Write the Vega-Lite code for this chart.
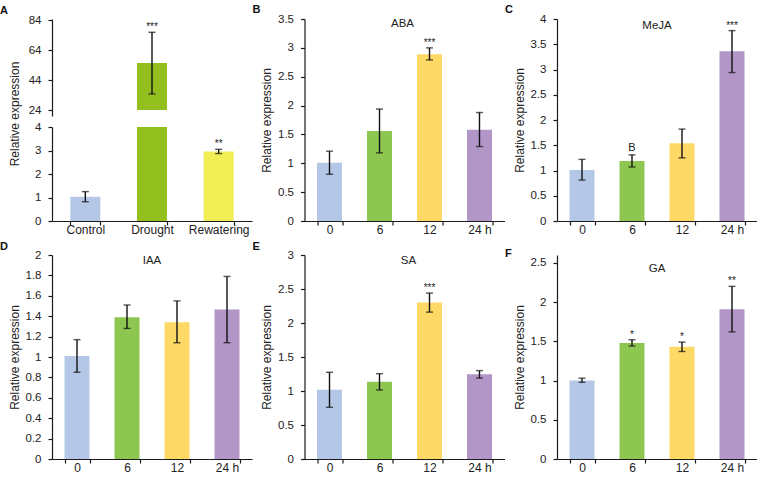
{
  "$schema": "https://vega.github.io/schema/vega-lite/v6.json",
  "padding": {"left": 0, "top": 3, "right": 0, "bottom": 0},
  "background": "white",
  "datasets": {
    "abiotic": [
      {"g": "Control", "v": 1.03, "lo": 0.82, "hi": 1.25, "s": ""},
      {"g": "Drought", "v": 55.5, "lo": 34.8, "hi": 76.1, "s": "***"},
      {"g": "Rewatering", "v": 2.96, "lo": 2.87, "hi": 3.05, "s": "**"}
    ],
    "hormone": [
      {"h": "ABA", "t": "0", "v": 1.01, "lo": 0.81, "hi": 1.21, "s": "", "n": ""},
      {"h": "ABA", "t": "6", "v": 1.56, "lo": 1.18, "hi": 1.94, "s": "", "n": ""},
      {"h": "ABA", "t": "12", "v": 2.89, "lo": 2.79, "hi": 3.0, "s": "***", "n": ""},
      {"h": "ABA", "t": "24 h", "v": 1.58, "lo": 1.29, "hi": 1.88, "s": "", "n": ""},
      {"h": "MeJA", "t": "0", "v": 1.01, "lo": 0.81, "hi": 1.22, "s": "", "n": ""},
      {"h": "MeJA", "t": "6", "v": 1.19, "lo": 1.07, "hi": 1.31, "s": "", "n": "B"},
      {"h": "MeJA", "t": "12", "v": 1.54, "lo": 1.25, "hi": 1.82, "s": "", "n": ""},
      {"h": "MeJA", "t": "24 h", "v": 3.36, "lo": 2.94, "hi": 3.77, "s": "***", "n": ""},
      {"h": "IAA", "t": "0", "v": 1.01, "lo": 0.85, "hi": 1.17, "s": "", "n": ""},
      {"h": "IAA", "t": "6", "v": 1.39, "lo": 1.28, "hi": 1.51, "s": "", "n": ""},
      {"h": "IAA", "t": "12", "v": 1.34, "lo": 1.14, "hi": 1.55, "s": "", "n": ""},
      {"h": "IAA", "t": "24 h", "v": 1.465, "lo": 1.14, "hi": 1.79, "s": "", "n": ""},
      {"h": "SA", "t": "0", "v": 1.02, "lo": 0.76, "hi": 1.275, "s": "", "n": ""},
      {"h": "SA", "t": "6", "v": 1.135, "lo": 1.015, "hi": 1.255, "s": "", "n": ""},
      {"h": "SA", "t": "12", "v": 2.3, "lo": 2.16, "hi": 2.44, "s": "***", "n": ""},
      {"h": "SA", "t": "24 h", "v": 1.245, "lo": 1.19, "hi": 1.3, "s": "", "n": ""},
      {"h": "GA", "t": "0", "v": 1.0, "lo": 0.977, "hi": 1.03, "s": "", "n": ""},
      {"h": "GA", "t": "6", "v": 1.48, "lo": 1.44, "hi": 1.52, "s": "*", "n": ""},
      {"h": "GA", "t": "12", "v": 1.43, "lo": 1.37, "hi": 1.49, "s": "*", "n": ""},
      {"h": "GA", "t": "24 h", "v": 1.91, "lo": 1.62, "hi": 2.2, "s": "**", "n": ""}
    ]
  },
  "config": {
    "font": "Liberation Sans",
    "view": {"stroke": null},
    "axis": {"labelFont": "Liberation Sans", "titleFont": "Liberation Sans", "labelColor": "#222", "titleColor": "#222", "domainColor": "#1a1a1a", "tickColor": "#1a1a1a", "domainWidth": 1.2, "tickWidth": 1.2, "tickSize": 4, "grid": false, "titleFontWeight": "normal", "labelOverlap": false, "labelBound": false, "labelFlush": false},
    "axisY": {"labelFontSize": 11.5, "titleFontSize": 12, "labelPadding": 7, "titleX": -31},
    "axisX": {"labelFontSize": 12, "labelPadding": -1, "labelAngle": 0}
  },
  "vconcat": [
    {
      "hconcat": [
        {
          "bounds": "flush",
          "spacing": 11,
          "vconcat": [
            {
              "width": 200, "height": 97,
              "data": {"name": "abiotic"},
              "transform": [{"filter": "datum.v > 24"}],
              "resolve": {"scale": {"x": "independent"}, "axis": {"x": "independent"}},
              "layer": [
                {
                  "encoding": {"x": {"field": "g", "type": "nominal", "sort": null, "axis": null, "scale": {"domain": ["Control", "Drought", "Rewatering"], "paddingInner": 0.55, "paddingOuter": 0.275}}},
                  "layer": [
                    {"mark": "bar", "encoding": {"y": {"field": "v", "type": "quantitative", "title": null, "scale": {"domain": [24, 84]}, "axis": {"values": [24, 44, 64, 84], "title": null}}, "y2": {"datum": 24}, "color": {"field": "g", "type": "nominal", "legend": null, "scale": {"domain": ["Control", "Drought", "Rewatering", "0", "6", "12", "24 h"], "range": ["#b4c7e7", "#93c01f", "#f1ee55", "#b4c7e7", "#8dc650", "#ffd966", "#b296c8"]}}}},
                    {"mark": {"type": "rule", "color": "#111", "strokeWidth": 1.4}, "encoding": {"y": {"field": "lo", "type": "quantitative", "title": null, "axis": {"values": [24, 44, 64, 84], "title": null}}, "y2": {"field": "hi"}}},
                    {"mark": {"type": "tick", "color": "#111", "thickness": 1.4, "size": 7}, "encoding": {"y": {"field": "lo", "type": "quantitative", "title": null, "axis": {"values": [24, 44, 64, 84], "title": null}}}},
                    {"mark": {"type": "tick", "color": "#111", "thickness": 1.4, "size": 7}, "encoding": {"y": {"field": "hi", "type": "quantitative", "title": null, "axis": {"values": [24, 44, 64, 84], "title": null}}}},
                    {"mark": {"type": "text", "baseline": "alphabetic", "dy": -2, "fontSize": 10, "color": "#222"}, "encoding": {"y": {"field": "hi", "type": "quantitative", "title": null, "axis": {"values": [24, 44, 64, 84], "title": null}}, "text": {"field": "s"}}}
                  ]
                },
                {"mark": {"type": "text", "fontSize": 11, "fontWeight": "bold", "baseline": "alphabetic", "align": "left", "dy": -6.5, "color": "#111"}, "encoding": {"x": {"datum": -0.26, "type": "quantitative", "scale": {"domain": [0, 1]}, "axis": null}, "y": {"datum": 84, "type": "quantitative", "title": null, "axis": {"values": [24, 44, 64, 84], "title": null}}, "text": {"value": "A"}}}
              ]
            },
            {
              "width": 200, "height": 94,
              "data": {"name": "abiotic"},
              "encoding": {"x": {"field": "g", "type": "nominal", "sort": null, "title": null, "axis": {"tickBand": "extent"}, "scale": {"domain": ["Control", "Drought", "Rewatering"], "paddingInner": 0.55, "paddingOuter": 0.275}}},
              "layer": [
                {"mark": "bar", "encoding": {"y": {"field": "v", "type": "quantitative", "title": "Relative expression", "scale": {"domain": [0, 4], "clamp": true}, "axis": {"values": [0, 1, 2, 3, 4], "titleY": -13.5}}, "color": {"field": "g", "type": "nominal", "legend": null, "scale": {"domain": ["Control", "Drought", "Rewatering", "0", "6", "12", "24 h"], "range": ["#b4c7e7", "#93c01f", "#f1ee55", "#b4c7e7", "#8dc650", "#ffd966", "#b296c8"]}}}},
                {"transform": [{"filter": "datum.g !== 'Drought'"}], "mark": {"type": "rule", "color": "#111", "strokeWidth": 1.4}, "encoding": {"y": {"field": "lo", "type": "quantitative", "title": "Relative expression", "axis": {"values": [0, 1, 2, 3, 4], "titleY": -13.5}}, "y2": {"field": "hi"}}},
                {"transform": [{"filter": "datum.g !== 'Drought'"}], "mark": {"type": "tick", "color": "#111", "thickness": 1.4, "size": 7}, "encoding": {"y": {"field": "lo", "type": "quantitative", "title": "Relative expression", "axis": {"values": [0, 1, 2, 3, 4], "titleY": -13.5}}}},
                {"transform": [{"filter": "datum.g !== 'Drought'"}], "mark": {"type": "tick", "color": "#111", "thickness": 1.4, "size": 7}, "encoding": {"y": {"field": "hi", "type": "quantitative", "title": "Relative expression", "axis": {"values": [0, 1, 2, 3, 4], "titleY": -13.5}}}},
                {"transform": [{"filter": "datum.g !== 'Drought'"}], "mark": {"type": "text", "baseline": "alphabetic", "dy": -2, "fontSize": 10, "color": "#222"}, "encoding": {"y": {"field": "hi", "type": "quantitative", "title": "Relative expression", "axis": {"values": [0, 1, 2, 3, 4], "titleY": -13.5}}, "text": {"field": "s"}}}
              ]
            }
          ]
        },
        {
          "width": 200, "height": 202,
          "data": {"name": "hormone"},
          "transform": [{"filter": "datum.h === 'ABA'"}],
          "resolve": {"scale": {"x": "independent"}, "axis": {"x": "independent"}},
          "layer": [
            {
              "encoding": {"x": {"field": "t", "type": "nominal", "sort": null, "title": null, "axis": {"tickBand": "extent"}, "scale": {"paddingInner": 0.5, "paddingOuter": 0.25}}},
              "layer": [
                {"mark": "bar", "encoding": {"y": {"field": "v", "type": "quantitative", "title": "Relative expression", "scale": {"domain": [0, 3.5]}, "axis": {"values": [0, 0.5, 1, 1.5, 2, 2.5, 3, 3.5], "format": "~g"}}, "color": {"field": "t", "type": "nominal", "legend": null, "scale": {"domain": ["Control", "Drought", "Rewatering", "0", "6", "12", "24 h"], "range": ["#b4c7e7", "#93c01f", "#f1ee55", "#b4c7e7", "#8dc650", "#ffd966", "#b296c8"]}}}},
                {"mark": {"type": "rule", "color": "#111", "strokeWidth": 1.4}, "encoding": {"y": {"field": "lo", "type": "quantitative", "title": "Relative expression", "axis": {"values": [0, 0.5, 1, 1.5, 2, 2.5, 3, 3.5], "format": "~g"}}, "y2": {"field": "hi"}}},
                {"mark": {"type": "tick", "color": "#111", "thickness": 1.4, "size": 7}, "encoding": {"y": {"field": "lo", "type": "quantitative", "title": "Relative expression", "axis": {"values": [0, 0.5, 1, 1.5, 2, 2.5, 3, 3.5], "format": "~g"}}}},
                {"mark": {"type": "tick", "color": "#111", "thickness": 1.4, "size": 7}, "encoding": {"y": {"field": "hi", "type": "quantitative", "title": "Relative expression", "axis": {"values": [0, 0.5, 1, 1.5, 2, 2.5, 3, 3.5], "format": "~g"}}}},
                {"mark": {"type": "text", "baseline": "alphabetic", "dy": -2, "fontSize": 10, "color": "#222"}, "encoding": {"y": {"field": "hi", "type": "quantitative", "title": "Relative expression", "axis": {"values": [0, 0.5, 1, 1.5, 2, 2.5, 3, 3.5], "format": "~g"}}, "text": {"field": "s"}}}
              ]
            },
            {"transform": [{"filter": "datum.t === '0'"}], "mark": {"type": "text", "fontSize": 11.5, "baseline": "middle", "color": "#222"}, "encoding": {"x": {"datum": 0.49, "type": "quantitative", "scale": {"domain": [0, 1]}, "axis": null}, "y": {"datum": 3.41, "type": "quantitative", "title": "Relative expression", "axis": {"values": [0, 0.5, 1, 1.5, 2, 2.5, 3, 3.5], "format": "~g"}}, "text": {"field": "h"}}},
            {"transform": [{"filter": "datum.t === '0'"}], "mark": {"type": "text", "fontSize": 11, "fontWeight": "bold", "baseline": "alphabetic", "align": "left", "dy": -6.3, "color": "#111"}, "encoding": {"x": {"datum": -0.26, "type": "quantitative", "scale": {"domain": [0, 1]}, "axis": null}, "y": {"datum": 3.5, "type": "quantitative", "title": "Relative expression", "axis": {"values": [0, 0.5, 1, 1.5, 2, 2.5, 3, 3.5], "format": "~g"}}, "text": {"value": "B"}}}
          ]
        },
        {
          "width": 200, "height": 202,
          "data": {"name": "hormone"},
          "transform": [{"filter": "datum.h === 'MeJA'"}],
          "resolve": {"scale": {"x": "independent"}, "axis": {"x": "independent"}},
          "layer": [
            {
              "encoding": {"x": {"field": "t", "type": "nominal", "sort": null, "title": null, "axis": {"tickBand": "extent"}, "scale": {"paddingInner": 0.5, "paddingOuter": 0.25}}},
              "layer": [
                {"mark": "bar", "encoding": {"y": {"field": "v", "type": "quantitative", "title": "Relative expression", "scale": {"domain": [0, 4]}, "axis": {"values": [0, 0.5, 1, 1.5, 2, 2.5, 3, 3.5, 4], "format": "~g"}}, "color": {"field": "t", "type": "nominal", "legend": null, "scale": {"domain": ["Control", "Drought", "Rewatering", "0", "6", "12", "24 h"], "range": ["#b4c7e7", "#93c01f", "#f1ee55", "#b4c7e7", "#8dc650", "#ffd966", "#b296c8"]}}}},
                {"mark": {"type": "rule", "color": "#111", "strokeWidth": 1.4}, "encoding": {"y": {"field": "lo", "type": "quantitative", "title": "Relative expression", "axis": {"values": [0, 0.5, 1, 1.5, 2, 2.5, 3, 3.5, 4], "format": "~g"}}, "y2": {"field": "hi"}}},
                {"mark": {"type": "tick", "color": "#111", "thickness": 1.4, "size": 7}, "encoding": {"y": {"field": "lo", "type": "quantitative", "title": "Relative expression", "axis": {"values": [0, 0.5, 1, 1.5, 2, 2.5, 3, 3.5, 4], "format": "~g"}}}},
                {"mark": {"type": "tick", "color": "#111", "thickness": 1.4, "size": 7}, "encoding": {"y": {"field": "hi", "type": "quantitative", "title": "Relative expression", "axis": {"values": [0, 0.5, 1, 1.5, 2, 2.5, 3, 3.5, 4], "format": "~g"}}}},
                {"mark": {"type": "text", "baseline": "alphabetic", "dy": -2, "fontSize": 10, "color": "#222"}, "encoding": {"y": {"field": "hi", "type": "quantitative", "title": "Relative expression", "axis": {"values": [0, 0.5, 1, 1.5, 2, 2.5, 3, 3.5, 4], "format": "~g"}}, "text": {"field": "s"}}},
                {"mark": {"type": "text", "baseline": "alphabetic", "dy": -4, "fontSize": 11, "color": "#222"}, "encoding": {"y": {"field": "hi", "type": "quantitative", "title": "Relative expression", "axis": {"values": [0, 0.5, 1, 1.5, 2, 2.5, 3, 3.5, 4], "format": "~g"}}, "text": {"field": "n"}}}
              ]
            },
            {"transform": [{"filter": "datum.t === '0'"}], "mark": {"type": "text", "fontSize": 11.5, "baseline": "middle", "color": "#222"}, "encoding": {"x": {"datum": 0.5, "type": "quantitative", "scale": {"domain": [0, 1]}, "axis": null}, "y": {"datum": 3.87, "type": "quantitative", "title": "Relative expression", "axis": {"values": [0, 0.5, 1, 1.5, 2, 2.5, 3, 3.5, 4], "format": "~g"}}, "text": {"field": "h"}}},
            {"transform": [{"filter": "datum.t === '0'"}], "mark": {"type": "text", "fontSize": 11, "fontWeight": "bold", "baseline": "alphabetic", "align": "left", "dy": -6.3, "color": "#111"}, "encoding": {"x": {"datum": -0.26, "type": "quantitative", "scale": {"domain": [0, 1]}, "axis": null}, "y": {"datum": 4, "type": "quantitative", "title": "Relative expression", "axis": {"values": [0, 0.5, 1, 1.5, 2, 2.5, 3, 3.5, 4], "format": "~g"}}, "text": {"value": "C"}}}
          ]
        }
      ],
      "spacing": 0.5
    },
    {
      "hconcat": [
        {
          "width": 200, "height": 204,
          "data": {"name": "hormone"},
          "transform": [{"filter": "datum.h === 'IAA'"}],
          "resolve": {"scale": {"x": "independent"}, "axis": {"x": "independent"}},
          "layer": [
            {
              "encoding": {"x": {"field": "t", "type": "nominal", "sort": null, "title": null, "axis": {"tickBand": "extent"}, "scale": {"paddingInner": 0.5, "paddingOuter": 0.25}}},
              "layer": [
                {"mark": "bar", "encoding": {"y": {"field": "v", "type": "quantitative", "title": "Relative expression", "scale": {"domain": [0, 2]}, "axis": {"values": [0, 0.2, 0.4, 0.6, 0.8, 1, 1.2, 1.4, 1.6, 1.8, 2], "format": "~g"}}, "color": {"field": "t", "type": "nominal", "legend": null, "scale": {"domain": ["Control", "Drought", "Rewatering", "0", "6", "12", "24 h"], "range": ["#b4c7e7", "#93c01f", "#f1ee55", "#b4c7e7", "#8dc650", "#ffd966", "#b296c8"]}}}},
                {"mark": {"type": "rule", "color": "#111", "strokeWidth": 1.4}, "encoding": {"y": {"field": "lo", "type": "quantitative", "title": "Relative expression", "axis": {"values": [0, 0.2, 0.4, 0.6, 0.8, 1, 1.2, 1.4, 1.6, 1.8, 2], "format": "~g"}}, "y2": {"field": "hi"}}},
                {"mark": {"type": "tick", "color": "#111", "thickness": 1.4, "size": 7}, "encoding": {"y": {"field": "lo", "type": "quantitative", "title": "Relative expression", "axis": {"values": [0, 0.2, 0.4, 0.6, 0.8, 1, 1.2, 1.4, 1.6, 1.8, 2], "format": "~g"}}}},
                {"mark": {"type": "tick", "color": "#111", "thickness": 1.4, "size": 7}, "encoding": {"y": {"field": "hi", "type": "quantitative", "title": "Relative expression", "axis": {"values": [0, 0.2, 0.4, 0.6, 0.8, 1, 1.2, 1.4, 1.6, 1.8, 2], "format": "~g"}}}}
              ]
            },
            {"transform": [{"filter": "datum.t === '0'"}], "mark": {"type": "text", "fontSize": 11.5, "baseline": "middle", "color": "#222"}, "encoding": {"x": {"datum": 0.5, "type": "quantitative", "scale": {"domain": [0, 1]}, "axis": null}, "y": {"datum": 1.94, "type": "quantitative", "title": "Relative expression", "axis": {"values": [0, 0.2, 0.4, 0.6, 0.8, 1, 1.2, 1.4, 1.6, 1.8, 2], "format": "~g"}}, "text": {"field": "h"}}},
            {"transform": [{"filter": "datum.t === '0'"}], "mark": {"type": "text", "fontSize": 11, "fontWeight": "bold", "baseline": "alphabetic", "align": "left", "dy": -5.5, "color": "#111"}, "encoding": {"x": {"datum": -0.26, "type": "quantitative", "scale": {"domain": [0, 1]}, "axis": null}, "y": {"datum": 2, "type": "quantitative", "title": "Relative expression", "axis": {"values": [0, 0.2, 0.4, 0.6, 0.8, 1, 1.2, 1.4, 1.6, 1.8, 2], "format": "~g"}}, "text": {"value": "D"}}}
          ]
        },
        {
          "width": 200, "height": 204,
          "data": {"name": "hormone"},
          "transform": [{"filter": "datum.h === 'SA'"}],
          "resolve": {"scale": {"x": "independent"}, "axis": {"x": "independent"}},
          "layer": [
            {
              "encoding": {"x": {"field": "t", "type": "nominal", "sort": null, "title": null, "axis": {"tickBand": "extent"}, "scale": {"paddingInner": 0.5, "paddingOuter": 0.25}}},
              "layer": [
                {"mark": "bar", "encoding": {"y": {"field": "v", "type": "quantitative", "title": "Relative expression", "scale": {"domain": [0, 3]}, "axis": {"values": [0, 0.5, 1, 1.5, 2, 2.5, 3], "format": "~g"}}, "color": {"field": "t", "type": "nominal", "legend": null, "scale": {"domain": ["Control", "Drought", "Rewatering", "0", "6", "12", "24 h"], "range": ["#b4c7e7", "#93c01f", "#f1ee55", "#b4c7e7", "#8dc650", "#ffd966", "#b296c8"]}}}},
                {"mark": {"type": "rule", "color": "#111", "strokeWidth": 1.4}, "encoding": {"y": {"field": "lo", "type": "quantitative", "title": "Relative expression", "axis": {"values": [0, 0.5, 1, 1.5, 2, 2.5, 3], "format": "~g"}}, "y2": {"field": "hi"}}},
                {"mark": {"type": "tick", "color": "#111", "thickness": 1.4, "size": 7}, "encoding": {"y": {"field": "lo", "type": "quantitative", "title": "Relative expression", "axis": {"values": [0, 0.5, 1, 1.5, 2, 2.5, 3], "format": "~g"}}}},
                {"mark": {"type": "tick", "color": "#111", "thickness": 1.4, "size": 7}, "encoding": {"y": {"field": "hi", "type": "quantitative", "title": "Relative expression", "axis": {"values": [0, 0.5, 1, 1.5, 2, 2.5, 3], "format": "~g"}}}},
                {"mark": {"type": "text", "baseline": "alphabetic", "dy": -2, "fontSize": 10, "color": "#222"}, "encoding": {"y": {"field": "hi", "type": "quantitative", "title": "Relative expression", "axis": {"values": [0, 0.5, 1, 1.5, 2, 2.5, 3], "format": "~g"}}, "text": {"field": "s"}}}
              ]
            },
            {"transform": [{"filter": "datum.t === '0'"}], "mark": {"type": "text", "fontSize": 11.5, "baseline": "middle", "color": "#222"}, "encoding": {"x": {"datum": 0.52, "type": "quantitative", "scale": {"domain": [0, 1]}, "axis": null}, "y": {"datum": 2.907, "type": "quantitative", "title": "Relative expression", "axis": {"values": [0, 0.5, 1, 1.5, 2, 2.5, 3], "format": "~g"}}, "text": {"field": "h"}}},
            {"transform": [{"filter": "datum.t === '0'"}], "mark": {"type": "text", "fontSize": 11, "fontWeight": "bold", "baseline": "alphabetic", "align": "left", "dy": -5.5, "color": "#111"}, "encoding": {"x": {"datum": -0.26, "type": "quantitative", "scale": {"domain": [0, 1]}, "axis": null}, "y": {"datum": 3, "type": "quantitative", "title": "Relative expression", "axis": {"values": [0, 0.5, 1, 1.5, 2, 2.5, 3], "format": "~g"}}, "text": {"value": "E"}}}
          ]
        },
        {
          "width": 200, "height": 204,
          "data": {"name": "hormone"},
          "transform": [{"filter": "datum.h === 'GA'"}],
          "resolve": {"scale": {"x": "independent"}, "axis": {"x": "independent"}},
          "layer": [
            {
              "encoding": {"x": {"field": "t", "type": "nominal", "sort": null, "title": null, "axis": {"tickBand": "extent"}, "scale": {"paddingInner": 0.5, "paddingOuter": 0.25}}},
              "layer": [
                {"mark": "bar", "encoding": {"y": {"field": "v", "type": "quantitative", "title": "Relative expression", "scale": {"domain": [0, 2.5]}, "axis": {"values": [0, 0.5, 1, 1.5, 2, 2.5], "format": "~g"}}, "color": {"field": "t", "type": "nominal", "legend": null, "scale": {"domain": ["Control", "Drought", "Rewatering", "0", "6", "12", "24 h"], "range": ["#b4c7e7", "#93c01f", "#f1ee55", "#b4c7e7", "#8dc650", "#ffd966", "#b296c8"]}}}},
                {"mark": {"type": "rule", "color": "#111", "strokeWidth": 1.4}, "encoding": {"y": {"field": "lo", "type": "quantitative", "title": "Relative expression", "axis": {"values": [0, 0.5, 1, 1.5, 2, 2.5], "format": "~g"}}, "y2": {"field": "hi"}}},
                {"mark": {"type": "tick", "color": "#111", "thickness": 1.4, "size": 7}, "encoding": {"y": {"field": "lo", "type": "quantitative", "title": "Relative expression", "axis": {"values": [0, 0.5, 1, 1.5, 2, 2.5], "format": "~g"}}}},
                {"mark": {"type": "tick", "color": "#111", "thickness": 1.4, "size": 7}, "encoding": {"y": {"field": "hi", "type": "quantitative", "title": "Relative expression", "axis": {"values": [0, 0.5, 1, 1.5, 2, 2.5], "format": "~g"}}}},
                {"mark": {"type": "text", "baseline": "alphabetic", "dy": -2, "fontSize": 10, "color": "#222"}, "encoding": {"y": {"field": "hi", "type": "quantitative", "title": "Relative expression", "axis": {"values": [0, 0.5, 1, 1.5, 2, 2.5], "format": "~g"}}, "text": {"field": "s"}}}
              ]
            },
            {"transform": [{"filter": "datum.t === '0'"}], "mark": {"type": "text", "fontSize": 11.5, "baseline": "middle", "color": "#222"}, "encoding": {"x": {"datum": 0.5, "type": "quantitative", "scale": {"domain": [0, 1]}, "axis": null}, "y": {"datum": 2.42, "type": "quantitative", "title": "Relative expression", "axis": {"values": [0, 0.5, 1, 1.5, 2, 2.5], "format": "~g"}}, "text": {"field": "h"}}},
            {"transform": [{"filter": "datum.t === '0'"}], "mark": {"type": "text", "fontSize": 11, "fontWeight": "bold", "baseline": "alphabetic", "align": "left", "dy": -5.5, "color": "#111"}, "encoding": {"x": {"datum": -0.26, "type": "quantitative", "scale": {"domain": [0, 1]}, "axis": null}, "y": {"datum": 2.5, "type": "quantitative", "title": "Relative expression", "axis": {"values": [0, 0.5, 1, 1.5, 2, 2.5], "format": "~g"}}, "text": {"value": "F"}}}
          ]
        }
      ],
      "spacing": 0.5
    }
  ],
  "spacing": 5
}
